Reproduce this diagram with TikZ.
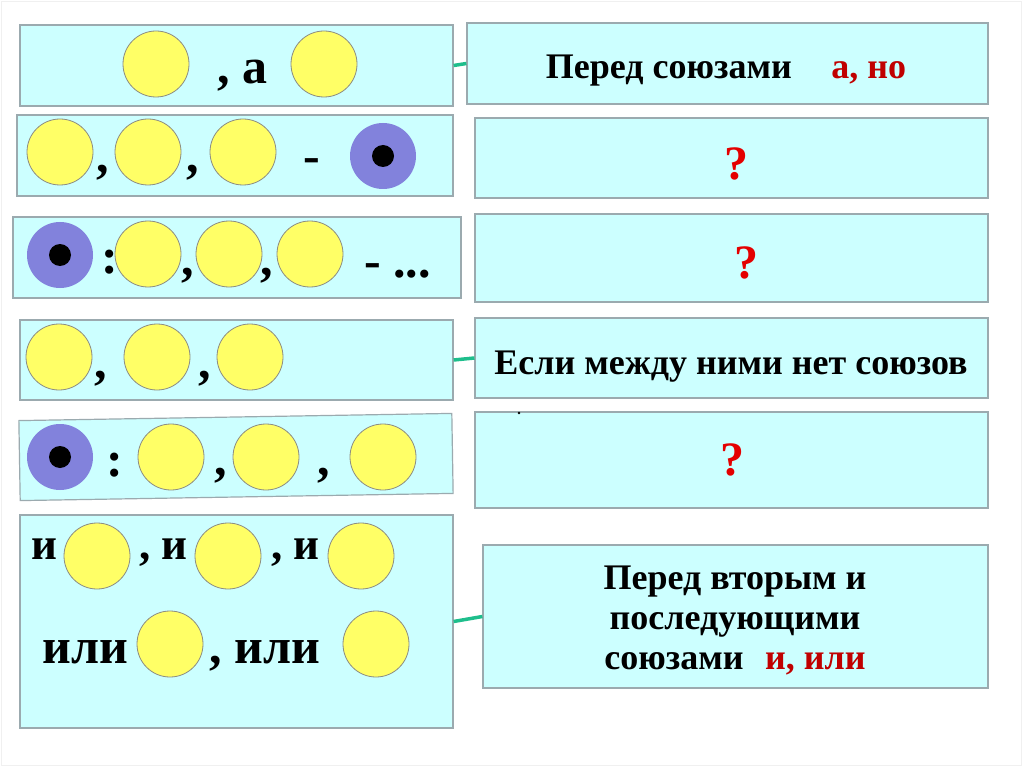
\documentclass[tikz,border=0pt]{standalone}
\usepackage{fontspec}
\setmainfont{Liberation Serif}
\usepackage{tikz}
\usetikzlibrary{positioning,calc}
\definecolor{panelFill}{RGB}{204,255,255}
\definecolor{panelLine}{RGB}{155,170,175}
\definecolor{dotYellow}{RGB}{255,255,102}
\definecolor{dotLine}{RGB}{140,140,130}
\definecolor{dotViolet}{RGB}{130,130,220}
\definecolor{linkTeal}{RGB}{30,190,140}
\definecolor{markRed}{RGB}{192,0,0}
\definecolor{askRed}{RGB}{228,0,0}
\newcommand{\lsize}{\fontsize{50}{56}\selectfont\bfseries}
\newcommand{\isize}{\fontsize{45}{50}\selectfont\bfseries}
\newcommand{\osize}{\fontsize{50}{56}\selectfont\bfseries}
\newcommand{\rsize}{\fontsize{36}{40}\selectfont\bfseries}

\begin{document}
\begin{tikzpicture}[x=1pt,y=-1pt,
  panel/.style={draw=panelLine,fill=panelFill,line width=1.2pt,inner sep=0},
  yel/.style={circle,draw=dotLine,fill=dotYellow,line width=0.8pt,minimum size=66,inner sep=0},
  vio/.style={circle,fill=dotViolet,minimum size=66,inner sep=0},
  sign/.style={anchor=base,inner sep=0,font=\lsize},
  word/.style={anchor=base west,inner sep=0,font=\isize},
  ask/.style={anchor=base,inner sep=0,font=\fontsize{48}{52}\selectfont\bfseries,text=askRed},
  conn/.style={linkTeal,line width=3.5pt}]
  \useasboundingbox (0,0) rectangle (1024,767);
  \draw[black!6] (1,1) rectangle (1021,765);

  \node[panel,minimum width=433,minimum height=81] (l1) at (236.5,65.5) {};
  \node[panel,minimum width=436,minimum height=81] (l2) at (235,155.5) {};
  \node[panel,minimum width=448,minimum height=81] (l3) at (237,257.5) {};
  \node[panel,minimum width=433,minimum height=80] (l4) at (236.5,360) {};
  \node[panel,minimum width=433,minimum height=80,rotate=0.95] (l5) at (236,457) {};
  \node[panel,minimum width=433,minimum height=213] (l6) at (236.5,621.5) {};

  \node[panel,minimum width=521,minimum height=81] (r1) at (727.5,63.5) {};
  \node[panel,minimum width=513,minimum height=80] (r2) at (731.5,158) {};
  \node[panel,minimum width=513,minimum height=88] (r3) at (731.5,258) {};
  \node[panel,minimum width=513,minimum height=80] (r4) at (731.5,358) {};
  \node[panel,minimum width=513,minimum height=96] (r5) at (731.5,460) {};
  \node[panel,minimum width=505,minimum height=143] (r6) at (735.5,616.5) {};

  \draw[conn] (l1.east) -- (r1.west);
  \draw[conn] (l4.east) -- (r4.west);
  \draw[conn] (l6.east) -- (r6.west);

  \node[yel] (a1) at (156,64) {};
  \node[yel] (a2) at (324,64) {};
  \node[sign,anchor=base west] (a12) at (217,84) {, а};

  \node[yel] (b1) at (60,152) {};
  \node[yel] (b2) at (148,152) {};
  \node[yel] (b3) at (243,152) {};
  \node[vio] (b4) at (383,156) {};
  \fill (b4.center) circle (11pt);
  \node[sign] (b12) at (103,173) {,};
  \node[sign] (b23) at (193,173) {,};
  \node[sign] (b34) at (312,173) {-};

  \node[vio] (c0) at (60,255) {};
  \fill (c0.center) circle (11pt);
  \node[yel] (c1) at (148,254) {};
  \node[yel] (c2) at (229,254) {};
  \node[yel] (c3) at (310,254) {};
  \node[sign] (c01) at (110,273) {:};
  \node[sign] (c12) at (188,275) {,};
  \node[sign] (c23) at (267,275) {,};
  \node[sign,anchor=base west] (c3x) at (364,277) {- ...};

  \node[yel] (d1) at (59,357) {};
  \node[yel] (d2) at (157,357) {};
  \node[yel] (d3) at (250,357) {};
  \node[sign] (d12) at (101,378) {,};
  \node[sign] (d23) at (205,378) {,};

  \node[vio] (e0) at (60,457) {};
  \fill (e0.center) circle (11pt);
  \node[yel] (e1) at (171,457) {};
  \node[yel] (e2) at (266,457) {};
  \node[yel] (e3) at (383,457) {};
  \node[sign] (e01) at (115,476) {:};
  \node[sign] (e12) at (221,475) {,};
  \node[sign] (e23) at (324,475) {,};

  \node[yel] (f1) at (97,556) {};
  \node[yel] (f2) at (228,556) {};
  \node[yel] (f3) at (361,556) {};
  \node[yel] (g1) at (170,644) {};
  \node[yel] (g2) at (376,644) {};
  \node[word] (f0) at (31,559) {и};
  \node[word] (f12) at (139,559) {, и};
  \node[word] (f23) at (271,559) {, и};
  \node[word,font=\osize] (g0) at (42,663) {или};
  \node[word,font=\osize] (g12) at (209,663) {, или};

  \node[anchor=base,inner sep=0,font=\rsize] (r1t) at (726,79)
    {Перед союзами\hspace{1.1em}\textcolor{markRed}{а, но}};
  \node[ask] (r2t) at (736,180) {?};
  \node[ask] (r3t) at (746,278) {?};
  \node[anchor=base,inner sep=0,font=\rsize] (r4t) at (731,374) {Если между ними нет союзов};
  \node[ask] (r5t) at (732,475) {?};
  \node[align=center,inner sep=0,font=\rsize] (r6t) at (735,620)
    {Перед вторым и\\последующими\\союзами\hspace{0.6em}\textcolor{markRed}{и, или}};
  \fill (519,413) circle (1.3pt);
\end{tikzpicture}
\end{document}
